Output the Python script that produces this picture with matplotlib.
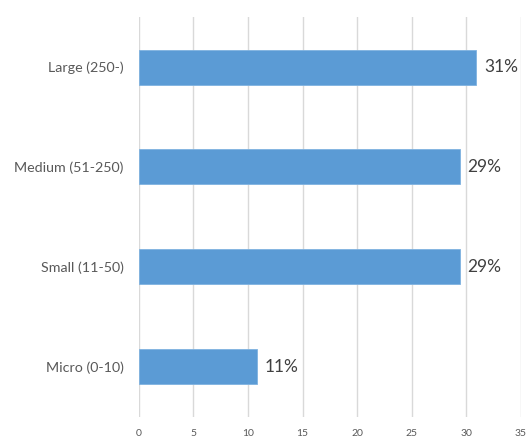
import matplotlib.pyplot as plt

# data
categories = ["Micro (0-10)", "Small (11-50)", "Medium (51-250)", "Large (250-)"]
values = [10.8, 29.4, 29.4, 30.9]
value_labels = ["11%", "29%", "29%", "31%"]
xticks = [0, 5, 10, 15, 20, 25, 30, 35]

plt.rcParams['font.family'] = ['Lato', 'DejaVu Sans']

fig = plt.figure(figsize=(5.3, 4.37), dpi=100)
ax = fig.add_axes([0.262, 0.046, 0.721, 0.915])

ypos = list(range(len(categories)))
ax.barh(ypos, values, height=0.35, color="#5B9BD5", edgecolor="#7FB2E0", linewidth=0.6, zorder=3)

for y, v, lab in zip(ypos, values, value_labels):
    ax.text(v + 0.7, y, lab, va="center", ha="left", fontsize=12.5, color="#404040")

ax.set_xlim(0, 35)
ax.set_ylim(-0.5, 3.5)
ax.set_xticks(xticks)
ax.set_xticklabels([str(t) for t in xticks])
ax.set_yticks(ypos)
ax.set_yticklabels(categories)

ax.grid(axis="x", color="#D9D9D9", linewidth=1.0, zorder=0)
ax.tick_params(axis="x", length=0, labelsize=7.5, labelcolor="#595959", pad=9)
ax.tick_params(axis="y", length=0, labelsize=10.3, labelcolor="#595959", pad=11)
for s in ax.spines.values():
    s.set_visible(False)

plt.savefig("out.png", dpi=100)
